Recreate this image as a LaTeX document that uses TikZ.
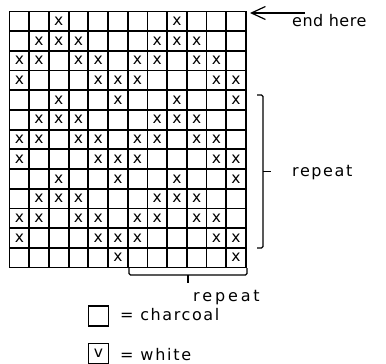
\documentclass[tikz,border=0pt]{standalone}
\usepackage{fontspec}
\setmainfont{DejaVu Sans}
\usetikzlibrary{arrows.meta}

\begin{document}
\begin{tikzpicture}[x=1pt, y=-1pt,
    xmark/.style={font=\fontsize{15.5}{17}\selectfont, inner sep=0pt},
    lbl/.style={font=\fontsize{16}{18}\selectfont\addfontfeature{LetterSpace=#1}, inner sep=0pt, anchor=base west},
    lbl/.default=10,
    bracket/.style={line width=1.3pt, rounded corners=1.5pt},
    keybox/.style={draw, line width=1.7pt, minimum size=20pt, inner sep=0pt, font=\fontsize{15.5}{17}\selectfont}]

\useasboundingbox (0,0) rectangle (386,364);

% chart, 12 stitches x 13 rows
\begin{scope}[shift={(9.5,267.5)}, x=19.7pt, y=19.7pt]
  \foreach \i in {0,...,12} \draw[line width=1.8pt] (\i,0) -- (\i,13);
  \foreach \j in {0,...,13} \draw[line width=1.8pt] (0,\j) -- (12,\j);
  \draw[line width=1.8pt] (0,0) rectangle (12,13);
  \foreach \r/\cols in {1/{3,9}, 2/{2,3,4,8,9,10}, 3/{1,2,4,5,7,8,10,11}, 4/{1,5,6,7,11,12},
                        5/{3,6,9,12}, 6/{2,3,4,8,9,10}, 7/{1,2,4,5,7,8,10,11}, 8/{1,5,6,7,11,12},
                        9/{3,6,9,12}, 10/{2,3,4,8,9,10}, 11/{1,2,4,5,7,8,10,11}, 12/{1,5,6,7,11,12},
                        13/{6,12}}
    \foreach \c in \cols
      \node[xmark] (x-\r-\c) at (\c-0.5, 13.5-\r) {x};
\end{scope}

% end here arrow
\coordinate (endtip) at (250,13);
\coordinate (arrowtail) at (305,13);
\draw[-{Straight Barb[length=14pt,width=13pt]}, line width=1.2pt] (arrowtail) -- (endtip);
\node[lbl=3] (endlbl) at (292,27) {end here};

% repeat brackets
\draw[bracket] (257,95) -- (263,95) -- (263,248) -- (257,248);
\draw[bracket] (263,171.5) -- (271,171.5);
\node[lbl] (repeatR) at (292,176.5) {repeat};

\draw[bracket] (129,268) -- (129,275) -- (247,275) -- (247,268);
\draw[bracket] (188,275) -- (188,283);
\node[lbl=18] (repeatB) at (193,301.5) {repeat};

% key
\node[keybox] (keyC) at (98.5,316) {};
\node[lbl] (charcoal) at (120,320.5) {= charcoal};
\node[keybox] (keyW) at (98.5,353.5) {v};
\node[lbl=11] (white) at (120,360.5) {= white};
\end{tikzpicture}
\end{document}
